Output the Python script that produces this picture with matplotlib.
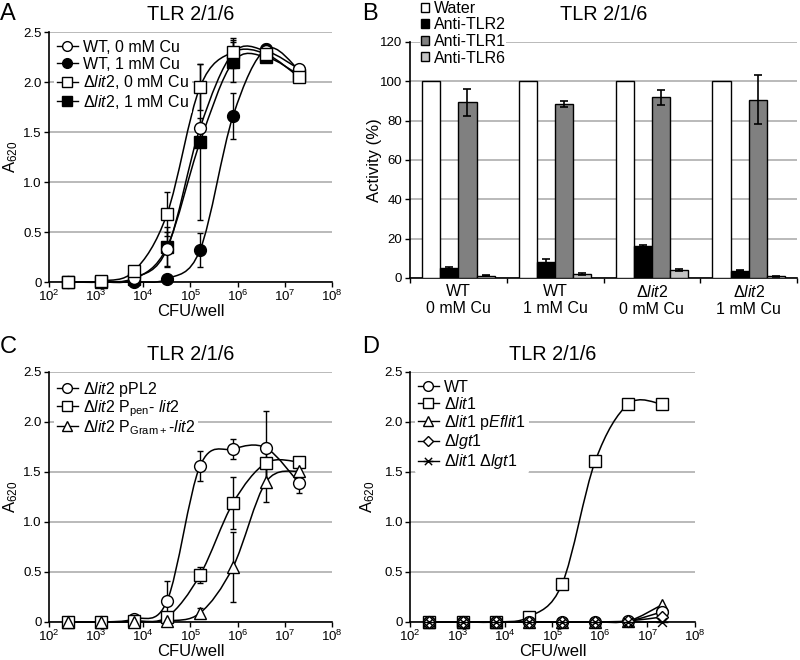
import numpy as np
import matplotlib
matplotlib.use('Agg')
import matplotlib.pyplot as plt
from matplotlib.path import Path
from matplotlib.patches import PathPatch, Patch
from matplotlib.lines import Line2D
from matplotlib.ticker import LogFormatterMathtext, NullLocator, FixedLocator, FixedFormatter

plt.rcParams['font.family'] = ['Liberation Sans', 'DejaVu Sans']
plt.rcParams['mathtext.fontset'] = 'custom'
plt.rcParams['mathtext.rm'] = 'Liberation Sans'
plt.rcParams['mathtext.it'] = 'Liberation Sans:italic'
plt.rcParams['mathtext.bf'] = 'Liberation Sans:bold'

# ---------------- data ----------------
cfu = [256, 1280, 6400, 32000, 160000, 800000, 4000000, 20000000]

# Panel A
a_labels = ['WT, 0 mM Cu', 'WT, 1 mM Cu',
            '\u0394$\\mathit{lit2}$, 0 mM Cu', '\u0394$\\mathit{lit2}$, 1 mM Cu']
a_wt0 = [0.00, 0.00, 0.04, 0.33, 1.54, 2.29, 2.31, 2.13]
a_wt1 = [0.00, 0.00, 0.00, 0.03, 0.32, 1.66, 2.33, 2.12]
a_d0 = [0.00, 0.01, 0.11, 0.68, 1.95, 2.30, 2.28, 2.05]
a_d1 = [0.00, 0.00, 0.03, 0.35, 1.40, 2.20, 2.25, 2.07]
a_wt0_err = [0, 0, 0.01, 0.17, 0.10, 0.15, 0.05, 0.02]
a_wt1_err = [0, 0, 0, 0.02, 0.17, 0.23, 0.05, 0.02]
a_d0_err = [0, 0, 0.02, 0.22, 0.23, 0.12, 0.05, 0.02]
a_d1_err = [0, 0, 0.01, 0.20, 0.78, 0.20, 0.05, 0.02]

# Panel B
b_groups = ['WT\n0 mM Cu', 'WT\n1 mM Cu',
            '\u0394$\\mathit{lit2}$\n0 mM Cu', '\u0394$\\mathit{lit2}$\n1 mM Cu']
b_series = ['Water', 'Anti-TLR2', 'Anti-TLR1', 'Anti-TLR6']
b_water = [100, 100, 100, 100]
b_tlr2 = [5.0, 8.0, 16.3, 3.7]
b_tlr1 = [89.4, 88.5, 91.9, 90.6]
b_tlr6 = [1.2, 1.9, 4.2, 0.8]
b_water_err = None
b_tlr2_err = [0.4, 1.6, 0.5, 0.2]
b_tlr1_err = [6.9, 1.4, 3.8, 12.4]
b_tlr6_err = [0.2, 0.5, 0.4, 0.1]

# Panel C
c_labels = ['\u0394$\\mathit{lit2}$ pPL2',
            '\u0394$\\mathit{lit2}$ P$_{\\mathrm{pen}}$- $\\mathit{lit2}$',
            '\u0394$\\mathit{lit2}$ P$_{\\mathrm{Gram+}}$-$\\mathit{lit2}$']
c_ppl2 = [0.00, 0.00, 0.03, 0.21, 1.56, 1.73, 1.74, 1.39]
c_ppen = [0.00, 0.00, 0.01, 0.05, 0.47, 1.19, 1.59, 1.60]
c_pgram = [0.00, 0.00, 0.00, 0.01, 0.09, 0.55, 1.40, 1.51]
c_ppl2_err = [0, 0, 0.01, 0.20, 0.15, 0.10, 0.37, 0.10]
c_ppen_err = [0, 0, 0, 0.03, 0.08, 0.26, 0.20, 0.05]
c_pgram_err = [0, 0, 0, 0.01, 0.05, 0.35, 0.20, 0.03]

# Panel D
d_labels = ['WT', '\u0394$\\mathit{lit1}$',
            '\u0394$\\mathit{lit1}$ p$\\mathit{Eflit1}$',
            '\u0394$\\mathit{lgt1}$',
            '\u0394$\\mathit{lit1}$ \u0394$\\mathit{lgt1}$']
d_wt = [0.00, 0.00, 0.00, 0.00, 0.00, 0.00, 0.01, 0.10]
d_lit1 = [0.00, 0.00, 0.00, 0.05, 0.38, 1.61, 2.18, 2.18]
d_comp = [0.00, 0.00, 0.00, 0.00, 0.00, 0.00, 0.01, 0.17]
d_lgt1 = [0.00, 0.00, 0.00, 0.00, 0.00, 0.00, 0.01, 0.05]
d_double = [0.00, 0.00, 0.00, 0.00, 0.00, 0.00, 0.00, 0.00]

# ---------------- helpers ----------------
star_marker = Path([(-1, 0), (1, 0), (-0.75, -0.75), (0.75, 0.75), (-0.75, 0.75), (0.75, -0.75)],
                   [Path.MOVETO, Path.LINETO, Path.MOVETO, Path.LINETO, Path.MOVETO, Path.LINETO])


def smooth_path(xs, ys):
    u = np.log10(np.asarray(xs, float))
    y = np.asarray(ys, float)
    P = np.column_stack([u, y])
    n = len(P)
    verts = [P[0]]
    codes = [Path.MOVETO]
    for i in range(n - 1):
        p0 = P[i - 1] if i > 0 else P[i]
        p1 = P[i]
        p2 = P[i + 1]
        p3 = P[i + 2] if i + 2 < n else P[i + 1]
        c1 = p1 + (p2 - p0) / 6.0
        c2 = p2 - (p3 - p1) / 6.0
        verts += [c1, c2, p2]
        codes += [Path.CURVE4] * 3
    verts = np.array(verts)
    verts[:, 0] = 10 ** verts[:, 0]
    return Path(verts, codes)


GRID = '#b4b4b4'
TICK_FS = 9.5
LEG_FS = 11.5
TITLE_FS = 14.3
LAB_FS = 12
MS = 8.5


def style_curve_axes(ax):
    ax.set_xscale('log')
    ax.set_xlim(1e2, 1e8)
    ax.set_ylim(0, 2.5)
    ax.xaxis.set_major_locator(FixedLocator([1e2, 1e3, 1e4, 1e5, 1e6, 1e7, 1e8]))
    ax.xaxis.set_major_formatter(LogFormatterMathtext())
    ax.xaxis.set_minor_locator(NullLocator())
    ax.yaxis.set_major_locator(FixedLocator([0, 0.5, 1.0, 1.5, 2.0, 2.5]))
    ax.yaxis.set_major_formatter(FixedFormatter(['0', '0.5', '1.0', '1.5', '2.0', '2.5']))
    for s in ['top', 'right']:
        ax.spines[s].set_visible(False)
    for s in ['left', 'bottom']:
        ax.spines[s].set_linewidth(1.2)
    ax.grid(axis='y', color=GRID, lw=1.3)
    ax.set_axisbelow(True)
    ax.tick_params(direction='out', length=3.5, width=1.0, labelsize=TICK_FS, pad=1.5)
    ax.set_xlabel('CFU/well', fontsize=LAB_FS, labelpad=0)
    ax.set_ylabel('A$_{620}$', fontsize=LAB_FS)
    ax.set_title('TLR 2/1/6', fontsize=TITLE_FS, pad=8.5)


def draw_series(ax, ys, err, marker, mfc, z=4):
    ax.add_patch(PathPatch(smooth_path(cfu, ys), fill=False, edgecolor='k', lw=1.1,
                           clip_on=False, zorder=2))
    if err is not None:
        ax.errorbar(cfu, ys, yerr=err, fmt='none', ecolor='k', elinewidth=1.0,
                    capsize=2.2, capthick=1.0, zorder=3, clip_on=False)
    ms = MS if marker != 'D' else MS * 0.75
    ax.plot(cfu, ys, ls='none', marker=marker, mfc=mfc, mec='k', ms=ms, mew=1.0,
            clip_on=False, zorder=z)


def handle(marker, mfc):
    ms = 7 if marker != 'D' else 5.5
    return Line2D([], [], color='k', lw=1.0, marker=marker, mfc=mfc, mec='k', ms=ms, mew=1.0)


fig = plt.figure(figsize=(8, 6.6), dpi=100)
axA = fig.add_axes([0.061, 0.5727, 0.354, 0.3788])
axB = fig.add_axes([0.5125, 0.5788, 0.4838, 0.3576])
axC = fig.add_axes([0.061, 0.0576, 0.354, 0.3788])
axD = fig.add_axes([0.5125, 0.0576, 0.356, 0.3788])

# ---------------- Panel A ----------------
style_curve_axes(axA)
draw_series(axA, a_wt1, a_wt1_err, 'o', 'k')
draw_series(axA, a_d1, a_d1_err, 's', 'k')
draw_series(axA, a_wt0, a_wt0_err, 'o', 'white', z=5)
draw_series(axA, a_d0, a_d0_err, 's', 'white', z=5)
axA.legend([handle('o', 'white'), handle('o', 'k'), handle('s', 'white'), handle('s', 'k')],
           a_labels, loc='upper left', bbox_to_anchor=(0.0, 1.0), fontsize=LEG_FS,
           frameon=True, facecolor='white', edgecolor='none', framealpha=1,
           handlelength=1.3, handletextpad=0.35, labelspacing=0.1, borderpad=0.2,
           borderaxespad=0.3, numpoints=1)
axA.yaxis.set_label_coords(-0.10, 0.5)

# ---------------- Panel B ----------------
xg = np.arange(len(b_groups))
w = 0.1875
offs = [-1.5 * w, -0.5 * w, 0.5 * w, 1.5 * w]
cols = ['white', 'black', '#808080', '#c4c4c4']
vals = [b_water, b_tlr2, b_tlr1, b_tlr6]
errs = [b_water_err, b_tlr2_err, b_tlr1_err, b_tlr6_err]
for v, e, o, c in zip(vals, errs, offs, cols):
    axB.bar(xg + o, v, width=w, color=c, edgecolor='k', lw=1.0, zorder=3,
            yerr=e, error_kw=dict(ecolor='k', elinewidth=1.2, capsize=3, capthick=1.2, zorder=4))
axB.set_xlim(-0.5, 3.5)
axB.set_ylim(0, 120)
axB.yaxis.set_major_locator(FixedLocator([0, 20, 40, 60, 80, 100, 120]))
axB.xaxis.set_major_locator(FixedLocator([-0.5, 0.5, 1.5, 2.5, 3.5]))
axB.xaxis.set_major_formatter(FixedFormatter(['', '', '', '', '']))
axB.xaxis.set_minor_locator(FixedLocator(list(xg)))
axB.xaxis.set_minor_formatter(FixedFormatter(b_groups))
axB.tick_params(axis='x', which='minor', length=0, labelsize=LEG_FS, pad=4)
axB.tick_params(axis='both', which='major', direction='out', length=3.5, width=1.0,
                labelsize=TICK_FS, pad=2)
for s in ['top', 'right']:
    axB.spines[s].set_visible(False)
for s in ['left', 'bottom']:
    axB.spines[s].set_linewidth(1.2)
axB.grid(axis='y', color=GRID, lw=1.3)
axB.set_axisbelow(True)
axB.set_ylabel('Activity (%)', fontsize=LAB_FS)
axB.yaxis.set_label_coords(-0.072, 0.5)
axB.set_title('TLR 2/1/6', fontsize=TITLE_FS, pad=16)
bh = [Patch(facecolor=c, edgecolor='k', lw=1.0) for c in cols]
fig.legend(bh, b_series, loc='upper left', bbox_to_anchor=(0.525, 1.0), fontsize=LEG_FS,
           frameon=True, facecolor='white', edgecolor='none', framealpha=1,
           handlelength=0.5, handleheight=0.5, handletextpad=0.3, labelspacing=0.1,
           borderpad=0.05, borderaxespad=0.0)

# ---------------- Panel C ----------------
style_curve_axes(axC)
draw_series(axC, c_ppl2, c_ppl2_err, 'o', 'white')
draw_series(axC, c_ppen, c_ppen_err, 's', 'white')
draw_series(axC, c_pgram, c_pgram_err, '^', 'white')
axC.legend([handle('o', 'white'), handle('s', 'white'), handle('^', 'white')], c_labels,
           loc='upper left', bbox_to_anchor=(0.0, 1.0), fontsize=LEG_FS,
           frameon=True, facecolor='white', edgecolor='none', framealpha=1,
           handlelength=1.3, handletextpad=0.35, labelspacing=-0.05, borderpad=0.2,
           borderaxespad=0.3, numpoints=1)
axC.yaxis.set_label_coords(-0.10, 0.5)

# ---------------- Panel D ----------------
style_curve_axes(axD)
draw_series(axD, d_lit1, None, 's', 'white')
draw_series(axD, d_comp, None, '^', 'white')
draw_series(axD, d_wt, None, 'o', 'white')
draw_series(axD, d_lgt1, None, 'D', 'white')
draw_series(axD, d_double, None, star_marker, 'none', z=6)
axD.legend([handle('o', 'white'), handle('s', 'white'), handle('^', 'white'),
            handle('D', 'white'), handle(star_marker, 'none')], d_labels,
           loc='upper left', bbox_to_anchor=(0.0, 1.0), fontsize=LEG_FS,
           frameon=True, facecolor='white', edgecolor='none', framealpha=1,
           handlelength=1.3, handletextpad=0.35, labelspacing=0.05, borderpad=0.2,
           borderaxespad=0.3, numpoints=1)
axD.yaxis.set_label_coords(-0.116, 0.5)

# panel letters
for letter, x, y in [('A', 0.0, 0.0), ('B', 362, 0.0), ('C', 0.0, 333), ('D', 362, 333)]:
    fig.text(x / 800, 1 - (y + 3) / 660, letter, fontsize=17, ha='left', va='top')

fig.savefig('out.png', dpi=100)
